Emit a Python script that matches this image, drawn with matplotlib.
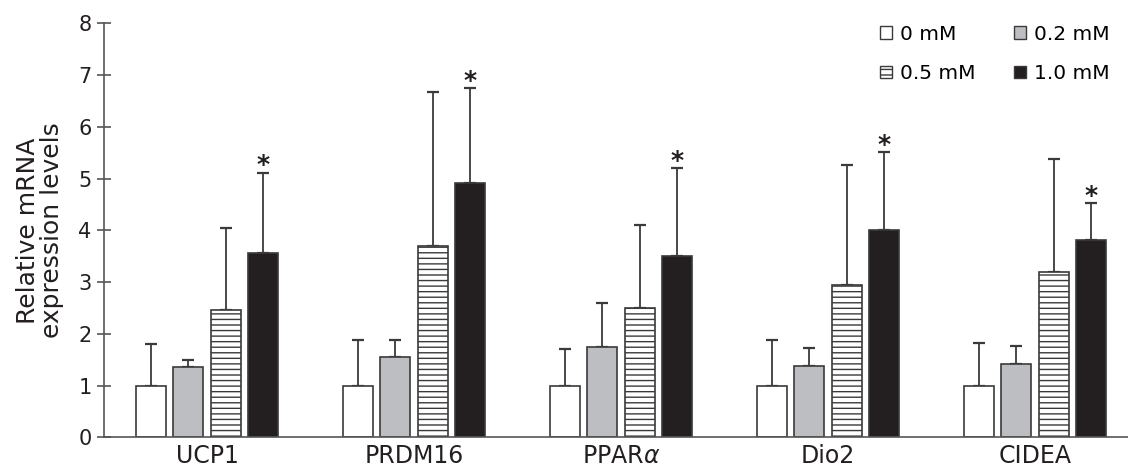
import matplotlib
matplotlib.use('Agg')
import matplotlib.pyplot as plt
import numpy as np
from matplotlib.patches import Patch

genes = ['UCP1', 'PRDM16', 'PPAR$\\alpha$', 'Dio2', 'CIDEA']
doses = ['0 mM', '0.2 mM', '0.5 mM', '1.0 mM']

# mean values per dose (one list per dose, in gene order)
mean_0 = [1.0, 1.0, 1.0, 1.0, 1.0]
mean_02 = [1.35, 1.55, 1.75, 1.38, 1.42]
mean_05 = [2.46, 3.70, 2.50, 2.94, 3.19]
mean_10 = [3.57, 4.91, 3.50, 4.00, 3.81]

# upper error (SD) per dose
err_0 = [0.80, 0.88, 0.70, 0.88, 0.83]
err_02 = [0.15, 0.33, 0.85, 0.34, 0.35]
err_05 = [1.59, 2.98, 1.60, 2.32, 2.19]
err_10 = [1.54, 1.84, 1.70, 1.51, 0.71]

# significant vs 0 mM
signif_10 = [True, True, True, True, True]

means = [mean_0, mean_02, mean_05, mean_10]
errs = [err_0, err_02, err_05, err_10]

edge = '#3a3a3a'
fills = ['white', '#bdbec2', 'white', '#231f20']
hatches = ['', '', '---', '']

plt.rcParams['font.family'] = 'DejaVu Sans'
plt.rcParams['hatch.linewidth'] = 1.0
plt.rcParams['hatch.color'] = '#222222'

fig = plt.figure(figsize=(11.28, 4.72), dpi=100)
ax = fig.add_axes([0.0922, 0.0735, 0.9078, 0.877])

x = np.arange(len(genes))
width = 0.145
pitch = 0.181

for i in range(len(doses)):
	pos = x + (i - 1.5) * pitch
	ax.bar(pos, means[i], width, color=fills[i], edgecolor=edge, linewidth=1.2,
		hatch=hatches[i], zorder=2)
	ax.errorbar(pos, means[i], yerr=[np.zeros(len(genes)), errs[i]], fmt='none',
		ecolor=edge, elinewidth=1.3, capsize=4.5, capthick=1.6, zorder=1)

# stars above 1.0 mM bars
pos10 = x + 1.5 * pitch
for j in range(len(genes)):
	if signif_10[j]:
		top = mean_10[j] + err_10[j]
		ax.text(pos10[j], top + 0.01, '*', ha='center', va='baseline', fontsize=18,
			fontweight='bold', color='#231f20')

ax.set_xlim(-0.4976, 4.45)
ax.set_ylim(0, 8)
ax.set_yticks(range(0, 9))
ax.set_xticks(x)
ax.set_xticklabels(genes, fontsize=17)
ax.tick_params(axis='x', length=0, pad=5, colors='#231f20')
ax.tick_params(axis='y', direction='inout', length=10, width=1.2, color='#555555',
	labelsize=15, labelcolor='#231f20', pad=4)
ax.set_ylabel('Relative mRNA\nexpression levels', fontsize=18, color='#231f20',
	labelpad=10, linespacing=1.0)

for s in ['top', 'right']:
	ax.spines[s].set_visible(False)
for s in ['left', 'bottom']:
	ax.spines[s].set_color('#555555')
	ax.spines[s].set_linewidth(1.2)

handles = []
for i in range(len(doses)):
	handles.append(Patch(facecolor=fills[i], edgecolor=edge, hatch=hatches[i],
		label=doses[i]))
# legend fills column-wise, reorder so rows read 0/0.2 and 0.5/1.0
order = [0, 2, 1, 3]
leg = ax.legend([handles[k] for k in order], [doses[k] for k in order], ncol=2,
	loc='upper right', bbox_to_anchor=(1.0, 1.04), frameon=False, fontsize=14.5,
	handlelength=0.6, handleheight=0.6, handletextpad=0.4, columnspacing=1.9,
	labelspacing=1.0)

fig.savefig('out.png', dpi=100)
